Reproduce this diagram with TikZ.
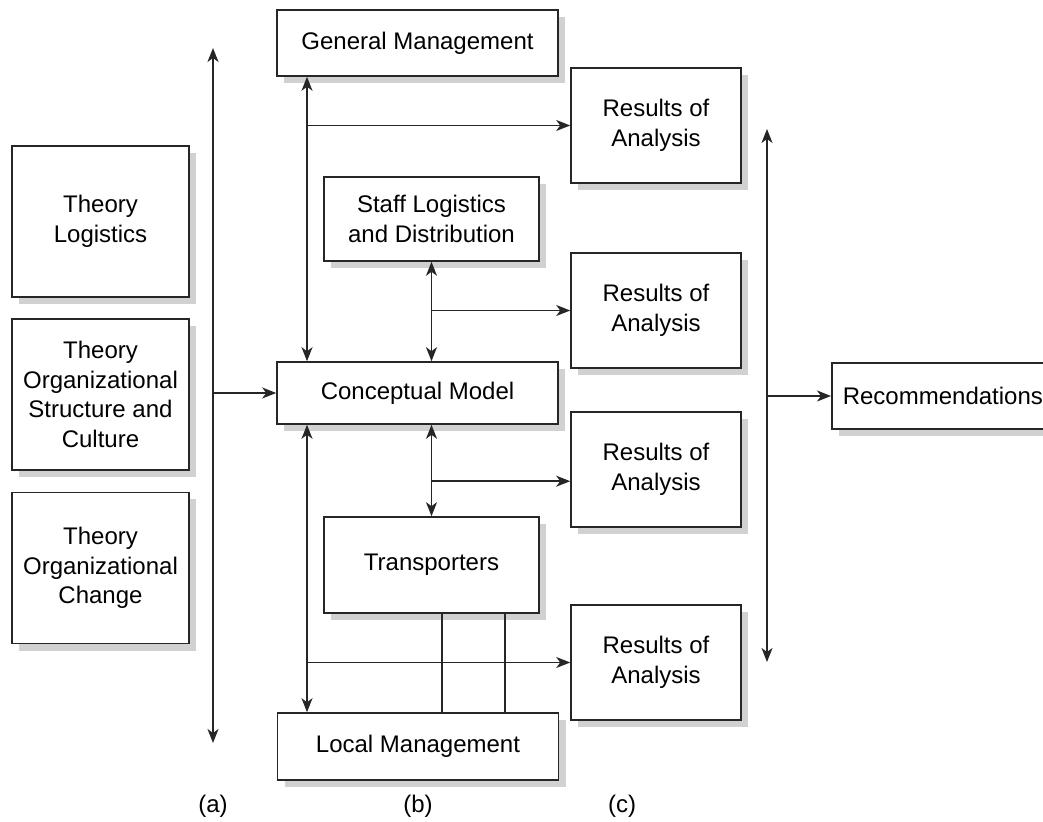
\documentclass[tikz,border=0pt]{standalone}
\usepackage{fontspec}
\setmainfont{Liberation Sans}
\usetikzlibrary{arrows.meta,shadows}

\begin{document}
\begin{tikzpicture}[x=0.5pt,y=-0.5pt,>={Stealth[length=7pt,width=5.5pt,inset=2pt]},
  line width=0.8pt,draw=black!85,
  box/.style={rectangle,draw=black!85,fill=white,align=center,inner sep=0pt,
    font=\fontsize{12}{14.8}\selectfont,
    drop shadow={shadow xshift=3.5pt,shadow yshift=-3.5pt,fill=black!18,opacity=1}},
  mgmt box/.style={box,minimum width=140.5pt},
  unit box/.style={box,minimum width=107.5pt},
  result box/.style={box,minimum width=85pt,minimum height=57.5pt},
  theory box/.style={box,minimum width=88.5pt,minimum height=75.5pt},
  label/.style={font=\fontsize{12}{14.5}\selectfont}]

  \useasboundingbox (0,0) rectangle (1043,822);

  % theories
  \node[theory box] (tl) at (100.5,221.5) {Theory\\Logistics};
  \node[theory box] (tosc) at (100.5,394.5) {Theory\\Organizational\\Structure and\\Culture};
  \node[theory box] (toc) at (100.5,568) {Theory\\Organizational\\Change};

  % model
  \node[mgmt box,minimum height=33pt] (gm) at (417.5,43) {General Management};
  \node[unit box,minimum height=42pt] (staff) at (431.5,219) {Staff Logistics\\and Distribution};
  \node[mgmt box,minimum height=31pt] (cm) at (417.5,393) {Conceptual Model};
  \node[unit box,minimum height=48pt] (trans) at (431.5,565) {Transporters};
  \node[mgmt box,minimum height=33.5pt] (lm) at (418,746.5) {Local Management};

  % results
  \node[result box] (r1) at (656,125.5) {Results of\\Analysis};
  \node[result box] (r2) at (656,310.5) {Results of\\Analysis};
  \node[result box] (r3) at (656,469.5) {Results of\\Analysis};
  \node[result box] (r4) at (656,662.5) {Results of\\Analysis};

  \node[box,anchor=west,minimum height=33pt,inner xsep=5.5pt] (rec) at (831,396) {Recommendations};

  \coordinate (atop) at (213,48);
  \coordinate (abot) at (213,743);
  \coordinate (ctop) at (767,129);
  \coordinate (cbot) at (767,662);
  \coordinate (bx) at (307,0);
  \coordinate (tbranch) at ([yshift=17.5pt]trans.north);

  \draw[<->] (atop) -- (abot);
  \draw[->] (cm.west -| atop) -- (cm.west);
  \draw[<->] (ctop) -- (cbot);
  \draw[->] (rec.west -| ctop) -- (rec.west);

  \draw[<->] (gm.south -| bx) -- (cm.north -| bx);
  \draw[->] (r1.west -| bx) -- (r1.west);
  \draw[<->] (cm.south -| bx) -- (lm.north -| bx);
  \draw[->] (r4.west -| bx) -- (r4.west);
  \draw[<->] (staff.south) -- (staff.south |- cm.north);
  \draw[->] (r2.west -| staff.south) -- (r2.west);
  \draw[<->] (cm.south -| trans.north) -- (trans.north);
  \draw[->] (tbranch) -- (tbranch -| r3.west);
  \draw ([xshift=5.25pt]trans.south) -- ([xshift=5.25pt]trans.south |- lm.north);
  \draw ([xshift=36.75pt]trans.south) -- ([xshift=36.75pt]trans.south |- lm.north);

  \node[label] (la) at (213,806) {(a)};
  \node[label] (lb) at (418,806) {(b)};
  \node[label] (lc) at (622,806) {(c)};
\end{tikzpicture}
\end{document}
